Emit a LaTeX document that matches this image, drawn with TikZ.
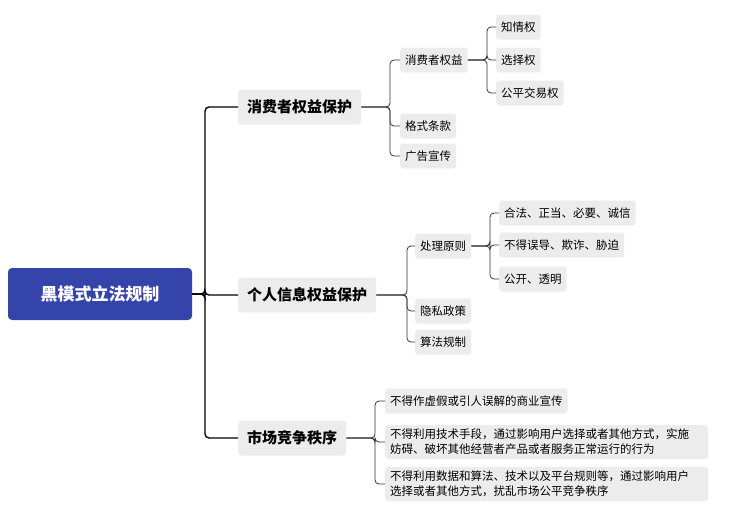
\documentclass[tikz,border=0pt]{standalone}
\usepackage{fontspec}
\setmainfont{Noto Sans CJK SC}
\begin{document}
\begin{tikzpicture}[x=1pt,y=-1pt,
  leaf/.style={draw=none,fill=gray!15,rounded corners=3pt,anchor=west,font=\fontsize{11.5}{15}\selectfont,inner xsep=5pt,inner ysep=4pt,minimum height=25pt},
  branch/.style={fill=gray!15,rounded corners=3pt,anchor=west,font=\fontsize{15}{17}\selectfont\bfseries,inner xsep=9pt,inner ysep=5pt,minimum height=35pt},
  con/.style={draw=black,line width=1.4pt,rounded corners=4pt},
  con2/.style={draw=black!80,line width=0.8pt,rounded corners=4pt}]
\useasboundingbox (0,0) rectangle (734,523);
\node[fill={rgb,255:red,52;green,68;blue,170},rounded corners=4pt,text=white,font=\fontsize{17}{20}\selectfont\bfseries,minimum width=184pt,minimum height=52pt] (root) at (100,294) {黑模式立法规制};
\node[branch] (b1) at (238,107) {消费者权益保护};
\node[branch] (b2) at (238,295) {个人信息权益保护};
\node[branch] (b3) at (238,438) {市场竞争秩序};
\foreach \b in {b1,b2,b3}{\draw[con] (root.east) -- (205,294) |- (\b.west);}
\node[leaf] (c1) at (400,60) {消费者权益};
\node[leaf] (c2) at (400,126) {格式条款};
\node[leaf] (c3) at (400,156) {广告宣传};
\foreach \c in {c1,c2,c3}{\draw[con2] (b1.east) -- (390,107) |- (\c.west);}
\node[leaf] (d1) at (496,27) {知情权};
\node[leaf] (d2) at (496,60) {选择权};
\node[leaf] (d3) at (496,93) {公平交易权};
\foreach \c in {d1,d2,d3}{\draw[con2] (c1.east) -- (487,60) |- (\c.west);}
\node[leaf] (e1) at (415,246) {处理原则};
\node[leaf] (e2) at (415,311) {隐私政策};
\node[leaf] (e3) at (415,342) {算法规制};
\foreach \c in {e1,e2,e3}{\draw[con2] (b2.east) -- (407,295) |- (\c.west);}
\node[leaf] (f1) at (499,213) {合法、正当、必要、诚信};
\node[leaf] (f2) at (499,245) {不得误导、欺诈、胁迫};
\node[leaf] (f3) at (499,279) {公开、透明};
\foreach \c in {f1,f2,f3}{\draw[con2] (e1.east) -- (490,246) |- (\c.west);}
\node[leaf] (g1) at (385,401) {不得作虚假或引人误解的商业宣传};
\node[leaf,align=left,text width=313pt] (g2) at (385,442) {不得利用技术手段，通过影响用户选择或者其他方式，实施\\妨碍、破坏其他经营者产品或者服务正常运行的行为};
\node[leaf,align=left,text width=313pt] (g3) at (385,484) {不得利用数据和算法、技术以及平台规则等，通过影响用户\\选择或者其他方式，扰乱市场公平竞争秩序};
\foreach \c in {g1,g2,g3}{\draw[con2] (b3.east) -- (375,438) |- (\c.west);}
\end{tikzpicture}
\end{document}
